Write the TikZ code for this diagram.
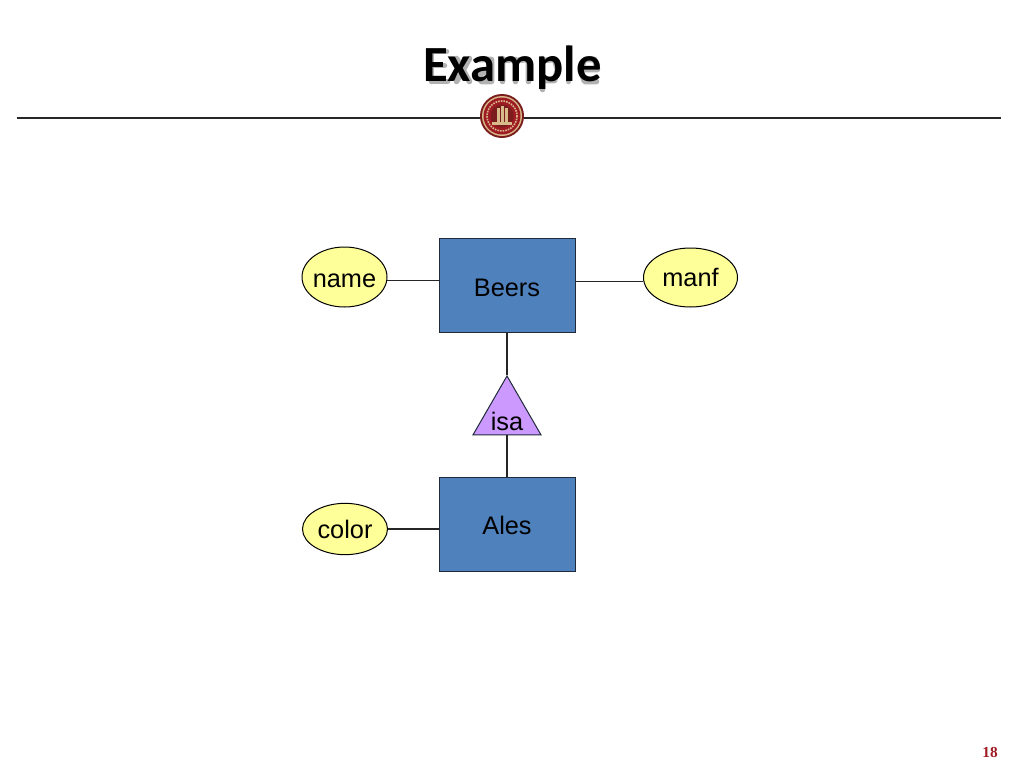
\documentclass[tikz,border=0pt]{standalone}
\usepackage{fontspec}
\setmainfont{Liberation Sans}
\newfontfamily\titlefont{Carlito}
\newfontfamily\pagefont{Liberation Serif}
\usetikzlibrary{shapes.geometric}
\definecolor{blueF}{HTML}{4F81BD}
\definecolor{edgeC}{HTML}{1F2A3A}
\definecolor{yellowF}{HTML}{FFFF99}
\definecolor{purpleF}{HTML}{CC99FF}
\definecolor{sealR}{HTML}{9E1B24}
\definecolor{sealD}{HTML}{7A1C1C}
\definecolor{sealG}{HTML}{D8B98A}
\tikzset{
  lab/.style={font=\fontsize{19}{22}\selectfont, text=black, inner sep=0pt},
  entity/.style={draw=edgeC, line width=0.75pt, fill=blueF, rectangle, minimum width=102pt, minimum height=70pt, lab},
  attr/.style={draw=black, line width=0.75pt, fill=yellowF, ellipse, lab},
  isatri/.style={draw=edgeC, line width=0.75pt, fill=purpleF, regular polygon, regular polygon sides=3, minimum size=59pt, lab},
  conn/.style={draw=black!85, line width=0.8pt},
  titleshade/.style={draw=black!30, line width=4.2pt, line cap=round, line join=round},
}
\newcommand{\dropped}[2]{\raisebox{#1}[0pt][0pt]{\makebox[0pt]{#2}}}
\begin{document}
\begin{tikzpicture}[x=0.75pt,y=-0.75pt]
\useasboundingbox (0,0) rectangle (1024,768);
% soft shadow of the title, drawn as shapes behind the letters
\begin{scope}[shift={(2.5,2.5)}]
\draw[titleshade] (429,49) -- (429,79) (429,49) -- (444,49) (429,63) -- (442,63) (429,79) -- (445,79);
\draw[titleshade] (454,56) -- (467,79) (467,56) -- (454,79);
\draw[titleshade] (477,57) -- (489,57) -- (489,79) -- (479,79) -- (477,71) -- (489,69);
\draw[titleshade] (500,56) -- (500,79) (500,58) -- (513,57) -- (513,79) (513,58) -- (526,57) -- (526,79);
\draw[titleshade] (540,56) -- (540,87) (540,58) -- (552,57) -- (555,67) -- (552,78) -- (540,78);
\draw[titleshade] (566,45) -- (566,79);
\draw[titleshade] (594,79) -- (582,79) -- (578,68) -- (582,57) -- (592,57) -- (595,67) -- (578,67);
\end{scope}
% title and rule
\node[font=\titlefont\bfseries\fontsize{38}{42}\selectfont, text=black, inner sep=0pt] (title) at (512.5,68) {Example};
\coordinate (ruleL) at (17,118);
\coordinate (ruleR) at (1001,118);
\draw[black!85, line width=0.9pt] (ruleL) -- (ruleR);
% seal
\node[circle, fill=sealD, minimum size=33pt, inner sep=0pt] (seal) at (502,116) {};
\fill[sealG] (seal.center) circle[radius=20];
\fill[sealR] (seal.center) circle[radius=18.5];
\draw[sealG, line width=1.2pt, dash pattern=on 1.2pt off 0.8pt] (seal.center) circle[radius=15];
\fill[sealD] (seal.center) circle[radius=11.5];
\fill[sealG] (492,122) rectangle (512,125);
\fill[sealG] (497,108) rectangle (499.5,125);
\fill[sealG] (501,106) rectangle (503.5,125);
\fill[sealG] (505,108) rectangle (507.5,125);
% entities
\node[entity] (beers) at (507,285.5) {\dropped{-8pt}{Beers}};
\node[entity] (ales) at (507,524.5) {\dropped{-7.7pt}{Ales}};
\node[attr, minimum width=63.75pt, minimum height=45pt] (name) at (344.5,277) {\dropped{-7.5pt}{name}};
\node[attr, minimum width=70.5pt, minimum height=44.25pt] (manf) at (690.5,277.5) {\dropped{-7pt}{manf}};
\node[attr, minimum width=63.75pt, minimum height=38.5pt] (color) at (345,529) {\dropped{-7pt}{color}};
\node[isatri] (isa) at (507,415.3) {\dropped{-11.5pt}{isa}};
% connectors
\draw[conn] (name.-5.5) -- (name.-5.5 -| beers.west);
\draw[conn] (beers.east |- manf.-175) -- (manf.-175);
\draw[conn] (color.east) -- (color.east -| ales.west);
\draw[conn] (beers.south) -- (isa.corner 1);
\draw[conn] (isa.side 2) -- (ales.north);
% page number
\node[font=\pagefont\bfseries\fontsize{11.5}{13}\selectfont, text=sealR, inner sep=0pt] (page) at (990,752) {18};
\end{tikzpicture}
\end{document}
